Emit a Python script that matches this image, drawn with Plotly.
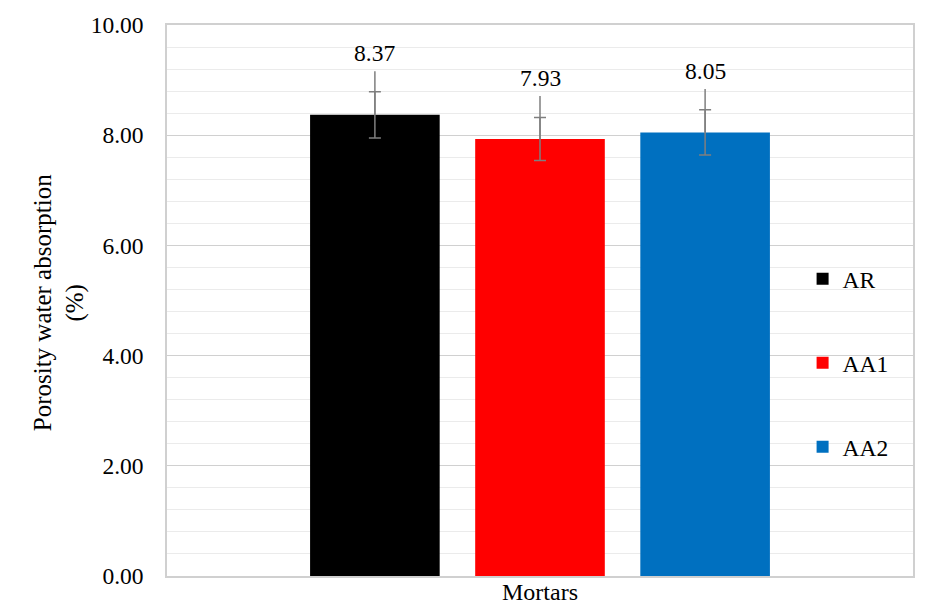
import plotly.graph_objects as go

categories = ["Mortars"]
series_names = ["AR", "AA1", "AA2"]
values = [8.37, 7.93, 8.05]
err_sym = [0.42, 0.39, 0.41]
err_ext = [0.79, 0.78, 0.79]
colors = ["#000000", "#FF0000", "#0070C0"]
ytick_vals = [0, 2, 4, 6, 8, 10]
y_title = "Porosity water absorption<br>(%)"

FONT = "Liberation Serif, Times New Roman, serif"
fig = go.Figure()

for i, name in enumerate(series_names):
    fig.add_trace(go.Bar(
        x=categories, y=[values[i]], name=name, offsetgroup=str(i),
        legendgroup=name,
        marker=dict(color=colors[i], line=dict(width=0)),
        error_y=dict(type="data", array=[err_sym[i]], symmetric=True,
                     color="#7F7F7F", thickness=1.5, width=6),
    ))
for i, name in enumerate(series_names):
    fig.add_trace(go.Bar(
        x=categories, y=[values[i]], name=name, offsetgroup=str(i),
        showlegend=False, hoverinfo="skip",
        marker=dict(color="rgba(0,0,0,0)", line=dict(width=0)),
        error_y=dict(type="data", array=[err_ext[i]], arrayminus=[0],
                     symmetric=False, color="#7F7F7F", thickness=1.5, width=0),
    ))

for i, name in enumerate(series_names):
    fig.add_annotation(
        x=categories[0], y=values[i] + err_ext[i], text=f"{values[i]:.2f}",
        xref="x", yref="y", showarrow=False, yanchor="bottom", yshift=3,
        xshift=(i - 1) * 165.5,
        font=dict(family=FONT, size=23.5, color="#000000"),
    )

# category label under the axis
fig.add_annotation(
    x=categories[0], y=0, xref="x", yref="paper", text=categories[0],
    showarrow=False, yanchor="top", yshift=-1,
    font=dict(family=FONT, size=24, color="#000000"),
)

# y-axis title
fig.add_annotation(
    x=0, y=0.495, xref="paper", yref="paper", text=y_title,
    showarrow=False, textangle=-90, xanchor="center", yanchor="middle",
    xshift=-108, font=dict(family=FONT, size=25, color="#000000"),
)

fig.update_layout(
    width=929, height=601,
    margin=dict(l=159, r=24, t=17, b=33),
    paper_bgcolor="white", plot_bgcolor="white",
    barmode="group", bargap=0.336, bargroupgap=0.215,
    font=dict(family=FONT, size=23.5, color="#000000"),
    showlegend=True,
    legend=dict(x=0.852, y=0.579, xanchor="left", yanchor="top",
                traceorder="grouped", tracegroupgap=50.5,
                font=dict(family=FONT, size=23.5, color="#000000"),
                bgcolor="rgba(0,0,0,0)", itemwidth=30),
    xaxis=dict(showgrid=False, showline=True, linecolor="#D0D0D0", linewidth=1.5,
               mirror=True, ticks="", automargin=False, showticklabels=False),
    yaxis=dict(range=[0, 10], tickvals=ytick_vals, tickformat=".2f",
               showgrid=True, gridcolor="#D0D0D0", gridwidth=1.2,
               showline=True, linecolor="#D0D0D0", linewidth=1.5, mirror=True,
               ticks="", zeroline=False, automargin=False, ticklabelstandoff=17,
               minor=dict(dtick=0.4, showgrid=True, gridcolor="#EBEBEB", gridwidth=1.2),
               tickfont=dict(family=FONT, size=23.5)),
)

fig.write_html("out.html")
